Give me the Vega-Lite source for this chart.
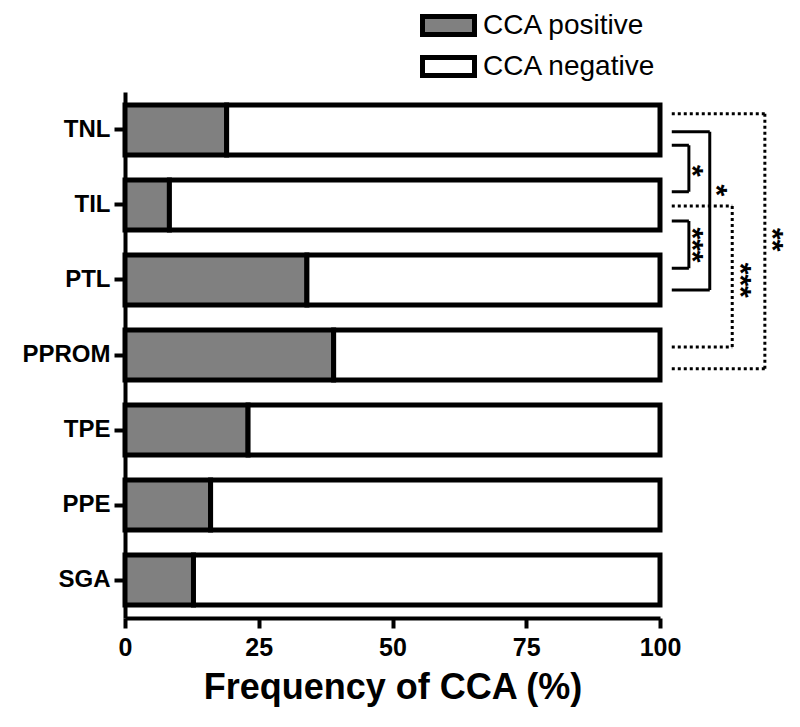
{
  "$schema": "https://vega.github.io/schema/vega-lite/v6.json",
  "width": 535,
  "height": 526,
  "autosize": "none",
  "padding": {"left": 125, "top": 92, "right": 140, "bottom": 109},
  "background": "white",
  "config": {
    "view": {"stroke": null},
    "font": "Liberation Sans"
  },
  "datasets": {
    "bars": [
      {"group": "TNL", "status": "CCA positive", "pct": 19, "ord": 1},
      {"group": "TNL", "status": "CCA negative", "pct": 81, "ord": 2},
      {"group": "TIL", "status": "CCA positive", "pct": 8.3, "ord": 1},
      {"group": "TIL", "status": "CCA negative", "pct": 91.7, "ord": 2},
      {"group": "PTL", "status": "CCA positive", "pct": 34, "ord": 1},
      {"group": "PTL", "status": "CCA negative", "pct": 66, "ord": 2},
      {"group": "PPROM", "status": "CCA positive", "pct": 39, "ord": 1},
      {"group": "PPROM", "status": "CCA negative", "pct": 61, "ord": 2},
      {"group": "TPE", "status": "CCA positive", "pct": 23, "ord": 1},
      {"group": "TPE", "status": "CCA negative", "pct": 77, "ord": 2},
      {"group": "PPE", "status": "CCA positive", "pct": 16, "ord": 1},
      {"group": "PPE", "status": "CCA negative", "pct": 84, "ord": 2},
      {"group": "SGA", "status": "CCA positive", "pct": 12.8, "ord": 1},
      {"group": "SGA", "status": "CCA negative", "pct": 87.2, "ord": 2}
    ],
    "brackets": [
      {"x": 102.2, "x2": 119.6, "y": 0.79, "y2": 0.79, "style": "dotted"},
      {"x": 119.6, "x2": 119.6, "y": 0.79, "y2": 4.19, "style": "dotted"},
      {"x": 102.2, "x2": 119.6, "y": 4.19, "y2": 4.19, "style": "dotted"},
      {"x": 102.2, "x2": 109.3, "y": 1.03, "y2": 1.03, "style": "solid"},
      {"x": 109.3, "x2": 109.3, "y": 1.03, "y2": 3.14, "style": "solid"},
      {"x": 102.2, "x2": 109.3, "y": 3.14, "y2": 3.14, "style": "solid"},
      {"x": 102.2, "x2": 105.4, "y": 1.21, "y2": 1.21, "style": "solid"},
      {"x": 105.4, "x2": 105.4, "y": 1.21, "y2": 1.83, "style": "solid"},
      {"x": 102.2, "x2": 105.4, "y": 1.83, "y2": 1.83, "style": "solid"},
      {"x": 102.2, "x2": 105.4, "y": 2.22, "y2": 2.22, "style": "solid"},
      {"x": 105.4, "x2": 105.4, "y": 2.22, "y2": 2.85, "style": "solid"},
      {"x": 102.2, "x2": 105.4, "y": 2.85, "y2": 2.85, "style": "solid"},
      {"x": 102.2, "x2": 113.5, "y": 2.02, "y2": 2.02, "style": "dotted"},
      {"x": 113.5, "x2": 113.5, "y": 2.02, "y2": 3.9, "style": "dotted"},
      {"x": 102.2, "x2": 113.5, "y": 3.9, "y2": 3.9, "style": "dotted"}
    ],
    "stars": [
      {"x": 106.9, "y": 1.55, "label": "*"},
      {"x": 111.4, "y": 1.81, "label": "*"},
      {"x": 106.9, "y": 2.54, "label": "***"},
      {"x": 115.9, "y": 3.01, "label": "***"},
      {"x": 121.9, "y": 2.47, "label": "**"}
    ]
  },
  "layer": [
    {
      "data": {"name": "bars"},
      "mark": {"type": "bar", "stroke": "black", "strokeWidth": 5, "opacity": 1},
      "encoding": {
        "y": {
          "field": "group",
          "type": "nominal",
          "sort": ["TNL", "TIL", "PTL", "PPROM", "TPE", "PPE", "SGA"],
          "scale": {"paddingInner": 0.333, "paddingOuter": 0.173},
          "axis": {
            "title": null,
            "labelFont": "Liberation Sans",
            "labelFontWeight": "bold",
            "labelFontSize": 24,
            "labelColor": "black",
            "labelPadding": 4,
            "tickSize": 11,
            "tickWidth": 4,
            "tickColor": "black",
            "domainColor": "black",
            "domainWidth": 4
          }
        },
        "x": {
          "field": "pct",
          "type": "quantitative",
          "stack": "zero",
          "scale": {"domain": [0, 100], "nice": false},
          "axis": {
            "values": [0, 25, 50, 75, 100],
            "title": "Frequency of CCA (%)",
            "titleFont": "Liberation Sans",
            "titleFontWeight": "bold",
            "titleFontSize": 36,
            "titleColor": "black",
            "titlePadding": 10,
            "labelFont": "Liberation Sans",
            "labelFontWeight": "bold",
            "labelFontSize": 25,
            "labelColor": "black",
            "labelPadding": 7,
            "labelFlush": false,
            "tickSize": 10,
            "tickWidth": 4,
            "tickColor": "black",
            "domainColor": "black",
            "domainWidth": 4,
            "grid": false
          }
        },
        "order": {"field": "ord", "type": "quantitative"},
        "color": {
          "field": "status",
          "type": "nominal",
          "scale": {"domain": ["CCA positive", "CCA negative"], "range": ["#808080", "#ffffff"]},
          "legend": {
            "title": null,
            "orient": "none",
            "legendX": 308,
            "legendY": -82,
            "symbolType": "M-2,-0.7H2V0.7H-2Z",
            "symbolSize": 676,
            "symbolStrokeColor": "black",
            "symbolStrokeWidth": 5,
            "symbolOpacity": 1,
            "labelFont": "Liberation Sans",
            "labelFontSize": 28,
            "labelColor": "black",
            "labelOffset": 19,
            "labelLimit": 400,
            "rowPadding": 2,
            "padding": 0
          }
        }
      }
    },
    {
      "data": {"name": "brackets"},
      "mark": {"type": "rule", "color": "black", "strokeWidth": 3, "strokeCap": "butt"},
      "encoding": {
        "x": {"field": "x", "type": "quantitative", "scale": {"domain": [0, 100], "nice": false}},
        "x2": {"field": "x2"},
        "y": {"field": "y", "type": "quantitative", "scale": {"domain": [0.5, 7.513], "reverse": true, "nice": false, "zero": false}, "axis": null},
        "y2": {"field": "y2"},
        "strokeDash": {
          "field": "style",
          "type": "nominal",
          "scale": {"domain": ["solid", "dotted"], "range": [[1, 0], [3, 3]]},
          "legend": null
        }
      }
    },
    {
      "data": {"name": "stars"},
      "mark": {"type": "text", "angle": 90, "font": "Liberation Sans", "fontSize": 30, "fontWeight": "bold", "color": "black", "align": "center", "baseline": "middle", "dy": 5},
      "encoding": {
        "x": {"field": "x", "type": "quantitative", "scale": {"domain": [0, 100], "nice": false}},
        "y": {"field": "y", "type": "quantitative", "scale": {"domain": [0.5, 7.513], "reverse": true, "nice": false, "zero": false}, "axis": null},
        "text": {"field": "label"}
      }
    }
  ],
  "resolve": {"scale": {"y": "independent"}, "axis": {"y": "independent"}}
}
